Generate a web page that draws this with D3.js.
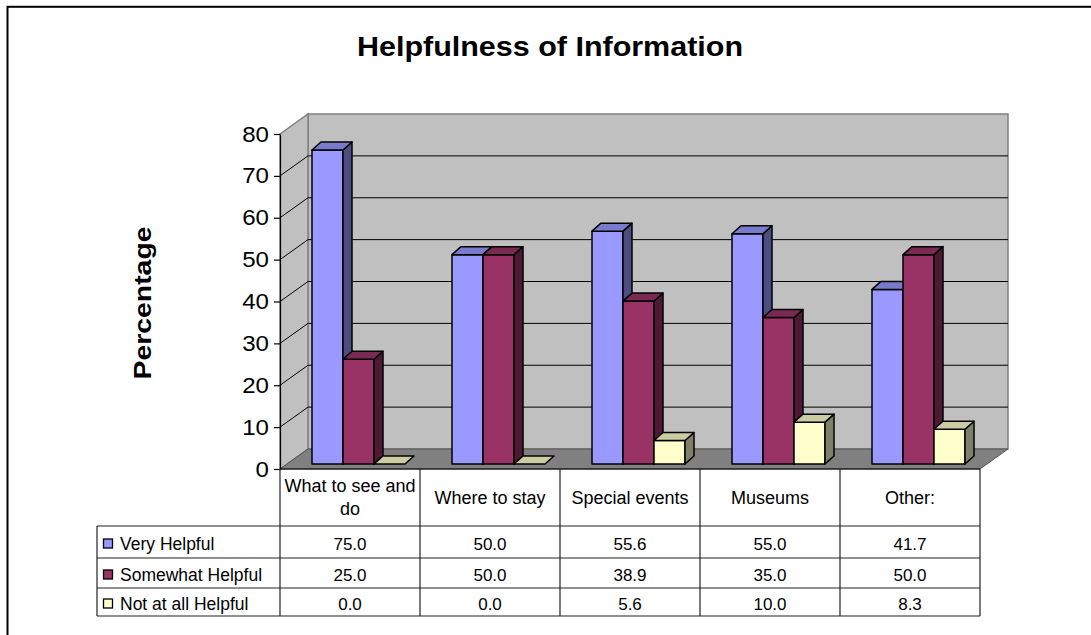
<!DOCTYPE html>
<html>
<head>
<meta charset="utf-8">
<script src="https://cdn.jsdelivr.net/npm/d3@7"></script>
<style>
  html, body { margin: 0; padding: 0; background: #fff; }
  svg { display: block; font-family: "Liberation Sans", Arial, sans-serif; }
</style>
</head>
<body>
<svg id="chart" width="1091" height="635"></svg>
<script>
// Survey results: helpfulness of information, by topic (percent)
const categories = ["What to see and do", "Where to stay", "Special events", "Museums", "Other:"];
const seriesNames = ["Very Helpful", "Somewhat Helpful", "Not at all Helpful"];
const veryHelpful = [75.0, 50.0, 55.6, 55.0, 41.7];
const somewhatHelpful = [25.0, 50.0, 38.9, 35.0, 50.0];
const notAtAllHelpful = [0.0, 0.0, 5.6, 10.0, 8.3];
const yTicks = [0, 10, 20, 30, 40, 50, 60, 70, 80];

const seriesValues = [veryHelpful, somewhatHelpful, notAtAllHelpful];
const colors = [
  { front: "#9999ff", top: "#7a7acc", side: "#4d4d80" },
  { front: "#993366", top: "#7a2952", side: "#4d1a33" },
  { front: "#ffffcc", top: "#cccca3", side: "#80806a" }
];

const svg = d3.select("#chart");

// layout of the 3-D plot box
const plotLeft = 280, plotRight = 980, baseY = 469, topY = 134;
const depth = { dx: 28, dy: -20 };          // wall depth offset
const barShift = { dx: 8, dy: -5 };         // bars sit slightly behind the front plane
const barDepth = { dx: 9, dy: -8 };         // depth of each bar

const x = d3.scaleBand().domain(categories).range([plotLeft, plotRight]);
const xs = d3.scaleBand().domain(seriesNames).range([24, 117]);
const y = d3.scaleLinear().domain([0, 80]).range([baseY, topY]);

// outer frame
svg.append("rect").attr("x", 7.5).attr("y", 6.8).attr("width", 1200).attr("height", 800)
  .attr("fill", "none").attr("stroke", "#000").attr("stroke-width", 2);

// title
svg.append("text").attr("x", 550).attr("y", 56).attr("text-anchor", "middle")
  .attr("font-size", 27).attr("font-weight", "bold")
  .attr("textLength", 386).attr("lengthAdjust", "spacingAndGlyphs")
  .text("Helpfulness of Information");

// y-axis title
svg.append("text").attr("transform", "translate(151,303) rotate(-90)")
  .attr("text-anchor", "middle").attr("font-size", 24).attr("font-weight", "bold")
  .attr("textLength", 153).attr("lengthAdjust", "spacingAndGlyphs")
  .text("Percentage");

const poly = pts => pts.map(p => p.join(",")).join(" ");
const y0 = y(0), y80 = y(80);

// back wall
svg.append("polygon")
  .attr("points", poly([[plotLeft + depth.dx, y80 + depth.dy], [plotRight + depth.dx, y80 + depth.dy],
                        [plotRight + depth.dx, y0 + depth.dy], [plotLeft + depth.dx, y0 + depth.dy]]))
  .attr("fill", "#c0c0c0").attr("stroke", "#808080").attr("stroke-width", 1.5);
// side wall
svg.append("polygon")
  .attr("points", poly([[plotLeft, y80], [plotLeft + depth.dx, y80 + depth.dy],
                        [plotLeft + depth.dx, y0 + depth.dy], [plotLeft, y0]]))
  .attr("fill", "#c0c0c0").attr("stroke", "#808080").attr("stroke-width", 1.5);
// floor
svg.append("polygon")
  .attr("points", poly([[plotLeft, y0], [plotRight, y0],
                        [plotRight + depth.dx, y0 + depth.dy], [plotLeft + depth.dx, y0 + depth.dy]]))
  .attr("fill", "#808080").attr("stroke", "#555").attr("stroke-width", 1);

// gridlines on side and back walls
const grid = svg.append("g").attr("stroke", "#000").attr("stroke-width", 1).attr("fill", "none");
yTicks.filter(t => t > 0 && t < 80).forEach(t => {
  grid.append("polyline").attr("points", poly([
    [plotLeft, y(t)], [plotLeft + depth.dx, y(t) + depth.dy], [plotRight + depth.dx, y(t) + depth.dy]
  ]));
});

// y axis
const axis = svg.append("g").attr("transform", `translate(${plotLeft},0)`)
  .call(d3.axisLeft(y).tickValues(yTicks).tickSize(6).tickPadding(5).tickSizeOuter(0));
axis.select(".domain").attr("stroke", "#000").attr("stroke-width", 1.2);
axis.selectAll(".tick line").attr("stroke", "#000").attr("stroke-width", 1.2);
axis.selectAll(".tick text").attr("font-size", 22).attr("fill", "#000")
  .attr("font-family", "Liberation Sans, Arial, sans-serif")
  .attr("textLength", d => 13.4 * String(d).length).attr("lengthAdjust", "spacingAndGlyphs");

// bars
const barsG = svg.append("g").attr("stroke", "#000").attr("stroke-width", 1.5).attr("stroke-linejoin", "round");
categories.forEach((cat, ci) => {
  seriesNames.forEach((s, si) => {
    const v = seriesValues[si][ci];
    const x0 = x(cat) + xs(s) + barShift.dx;
    const x1 = x0 + xs.bandwidth();
    const yb = y(0) + barShift.dy;
    const yt = y(v) + barShift.dy;
    const c = colors[si];
    const g = barsG.append("g");
    if (yb - yt > 0.5) {
      g.append("polygon").attr("points", poly([[x0, yt], [x1, yt], [x1, yb], [x0, yb]])).attr("fill", c.front);
      g.append("polygon").attr("points", poly([[x1, yt], [x1 + barDepth.dx, yt + barDepth.dy],
        [x1 + barDepth.dx, yb + barDepth.dy], [x1, yb]])).attr("fill", c.side);
    }
    g.append("polygon").attr("points", poly([[x0, yt], [x1, yt], [x1 + barDepth.dx, yt + barDepth.dy],
      [x0 + barDepth.dx, yt + barDepth.dy]])).attr("fill", c.top);
  });
});

// floor front edge
svg.append("line").attr("x1", plotLeft).attr("x2", plotRight).attr("y1", y0).attr("y2", y0)
  .attr("stroke", "#000").attr("stroke-width", 1.2);

// data table
const tableLeft = 97, headerBottom = 526;
const rowEdges = [526, 558, 588, 616];
const table = svg.append("g").attr("stroke", "#222").attr("stroke-width", 1.2);
x.domain().forEach(c => {
  table.append("line").attr("x1", x(c)).attr("x2", x(c)).attr("y1", y0).attr("y2", rowEdges[3]);
});
table.append("line").attr("x1", plotRight).attr("x2", plotRight).attr("y1", y0).attr("y2", rowEdges[3]);
table.append("line").attr("x1", tableLeft).attr("x2", tableLeft).attr("y1", headerBottom).attr("y2", rowEdges[3]);
rowEdges.forEach(ry => {
  table.append("line").attr("x1", tableLeft).attr("x2", plotRight).attr("y1", ry).attr("y2", ry);
});

// header labels (wrapped to fit the column)
const headerG = svg.append("g").attr("font-size", 18).attr("fill", "#000").attr("text-anchor", "middle");
categories.forEach(cat => {
  const cx = x(cat) + x.bandwidth() / 2;
  const words = cat.split(" ");
  const lines = [];
  let cur = "";
  const probe = headerG.append("text");
  words.forEach(w => {
    const trial = cur ? cur + " " + w : w;
    probe.text(trial);
    if (probe.node().getComputedTextLength() > x.bandwidth() - 6 && cur) {
      lines.push(cur); cur = w;
    } else cur = trial;
  });
  lines.push(cur);
  probe.remove();
  const lh = 23, midY = (y0 + headerBottom) / 2;
  const firstBase = midY + 6 - (lines.length - 1) * lh / 2;
  const t = headerG.append("text");
  lines.forEach((ln, i) => {
    t.append("tspan").attr("x", cx).attr("y", firstBase + i * lh).text(ln);
  });
});

// legend keys and value rows
const fmt = d3.format(".1f");
seriesNames.forEach((s, si) => {
  const top = rowEdges[si], bot = rowEdges[si + 1];
  const mid = (top + bot) / 2;
  svg.append("rect").attr("x", 103.5).attr("y", mid - 3).attr("width", 9).attr("height", 9)
    .attr("fill", colors[si].front).attr("stroke", "#000").attr("stroke-width", 1.3);
  svg.append("text").attr("x", 120).attr("y", mid + 8).attr("font-size", 17.5).text(s);
  categories.forEach((cat, ci) => {
    svg.append("text").attr("x", x(cat) + x.bandwidth() / 2).attr("y", mid + 8)
      .attr("text-anchor", "middle").attr("font-size", 17)
      .text(fmt(seriesValues[si][ci]));
  });
});
</script>
</body>
</html>
